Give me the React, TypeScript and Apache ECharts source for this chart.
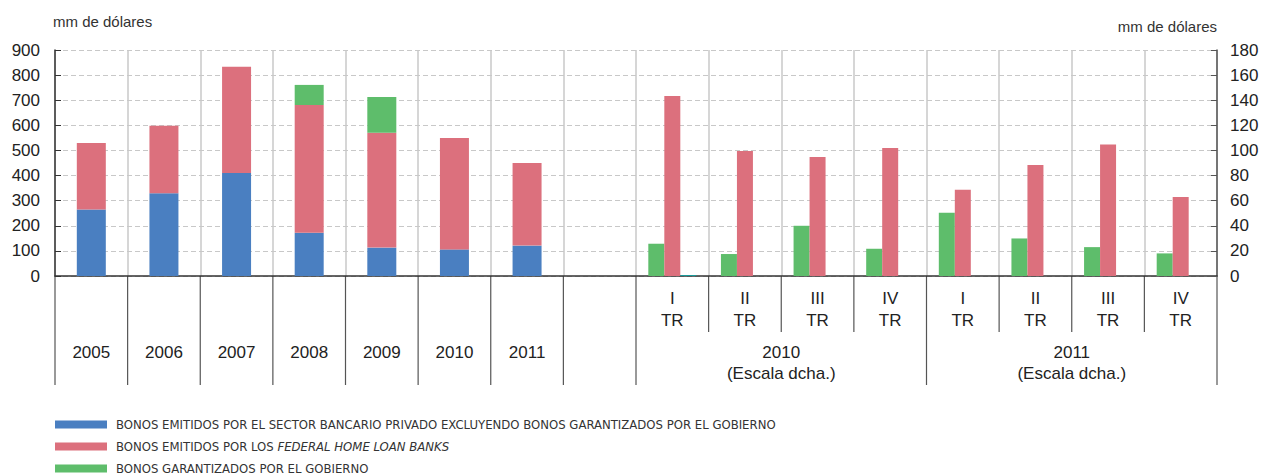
import React, { useEffect, useRef } from 'react';
import * as echarts from 'echarts';

// ---- Data ----
const years = ['2005', '2006', '2007', '2008', '2009', '2010', '2011'];
const quarterYears = ['2010', '2011'];
const quarters = ['I', 'II', 'III', 'IV'];
const quarterSuffix = 'TR';
const scaleNote = '(Escala dcha.)';
const unitLabel = 'mm de dólares';

// Yearly (left axis, stacked)
const privateBankYearly = [265, 330, 410, 172, 113, 106, 121];
const fhlbYearly = [265, 268, 423, 509, 457, 444, 329];
const govYearly = [null, null, null, 80, 143, null, null];

// Quarterly (right axis, side by side)
const govQuarterly = [25.7, 17.5, 40, 21.7, 50.3, 29.9, 23, 18];
const fhlbQuarterly = [143.4, 99.5, 94.8, 102, 68.6, 88.4, 104.8, 63];
const privateBankQuarterly = [0.8, null, null, null, null, null, null, null];

const S_PRIV = 'BONOS EMITIDOS POR EL SECTOR BANCARIO PRIVADO EXCLUYENDO BONOS GARANTIZADOS POR EL GOBIERNO';
const S_FHLB_A = 'BONOS EMITIDOS POR LOS ';
const S_FHLB_B = 'FEDERAL HOME LOAN BANKS';
const S_FHLB = S_FHLB_A + S_FHLB_B;
const S_GOV = 'BONOS GARANTIZADOS POR EL GOBIERNO';

const BLUE = '#4a7fc1';
const RED = '#dc707d';
const GREEN = '#5ebd6b';
const TEAL = '#1a9a9a';

const gapKey = ' ';
const quarterKeys = quarterYears.flatMap((y) => quarters.map((q) => `${q}|${y}`));
const categories = [...years, gapKey, ...quarterKeys];

const yearlyPad = (arr: (number | null)[]) => [...arr, ...Array(1 + quarterKeys.length).fill(null)];
const quarterlyPad = (arr: (number | null)[]) => [...Array(years.length + 1).fill(null), ...arr];

const FONT = '"Liberation Sans", Arial, sans-serif';
const NARROW = '"Liberation Sans Narrow", "DejaVu Sans Condensed", sans-serif';

export default function App() {
  const ref = useRef<HTMLDivElement>(null);
  useEffect(() => {
    document.body.style.margin = '0';
    const chart = echarts.init(ref.current!, undefined, { renderer: 'svg' });
    const option: any = {
      animation: false,
      backgroundColor: '#ffffff',
      grid: { left: 55, right: 47, top: 50, height: 226 },
      legend: {
        orient: 'vertical',
        left: 55,
        top: 418,
        padding: 0,
        itemWidth: 52,
        itemHeight: 8,
        itemGap: 9,
        icon: 'rect',
        selectedMode: false,
        data: [S_PRIV, S_FHLB, S_GOV],
        formatter: (name: string) =>
          name === S_FHLB ? `{n|${S_FHLB_A}}{i|${S_FHLB_B}}` : `{n|${name}}`,
        textStyle: {
          rich: {
            n: { fontFamily: NARROW, fontSize: 13, color: '#333', lineHeight: 15, padding: [0, 0, 0, 4] },
            i: { fontFamily: NARROW, fontSize: 13, color: '#333', lineHeight: 15, fontStyle: 'italic' },
          },
        },
      },
      xAxis: [
        {
          type: 'category',
          gridIndex: 0,
          position: 'bottom',
          data: categories,
          boundaryGap: true,
          axisLine: { show: true, lineStyle: { color: '#333', width: 1.5 } },
          axisTick: { show: false },
          splitLine: { show: true, interval: 0, lineStyle: { color: '#c8c8c8', width: 1.5 } },
          axisLabel: {
            interval: 0,
            margin: 66,
            fontFamily: FONT,
            fontSize: 17,
            lineHeight: 21,
            color: '#222',
            formatter: (v: string) => (years.includes(v) ? v : ''),
          },
        },
        {
          type: 'category',
          gridIndex: 0,
          position: 'bottom',
          data: categories,
          boundaryGap: true,
          axisLine: { show: false },
          axisTick: { show: false },
          splitLine: { show: false },
          axisLabel: {
            interval: 0,
            margin: 11,
            fontFamily: FONT,
            fontSize: 17,
            lineHeight: 22,
            color: '#222',
            formatter: (v: string) => (v.includes('|') ? `${v.split('|')[0]}\n${quarterSuffix}` : ''),
          },
        },
      ],
      yAxis: [
        {
          type: 'value',
          position: 'left',
          min: 0,
          max: 900,
          interval: 100,
          axisLine: { show: true, lineStyle: { color: '#333', width: 1.5 } },
          axisTick: { show: true, inside: true, length: 6, lineStyle: { color: '#333' } },
          axisLabel: { margin: 15, fontFamily: FONT, fontSize: 17, color: '#222' },
          splitLine: { show: true, lineStyle: { color: '#c8c8c8', type: [5, 3], width: 1.2 } },
        },
        {
          type: 'value',
          position: 'right',
          min: 0,
          max: 180,
          interval: 20,
          axisLine: { show: true, lineStyle: { color: '#555', width: 1.5 } },
          axisTick: { show: true, inside: true, length: 6, lineStyle: { color: '#555' } },
          axisLabel: { margin: 13, fontFamily: FONT, fontSize: 17, color: '#222' },
          splitLine: { show: false },
        },
      ],
      series: [
        { name: S_PRIV, type: 'bar', xAxisIndex: 0, yAxisIndex: 0, stack: 'y', barWidth: 29, itemStyle: { color: BLUE }, data: yearlyPad(privateBankYearly) },
        { name: S_FHLB, type: 'bar', xAxisIndex: 0, yAxisIndex: 0, stack: 'y', barWidth: 29, itemStyle: { color: RED }, data: yearlyPad(fhlbYearly) },
        { name: S_GOV, type: 'bar', xAxisIndex: 0, yAxisIndex: 0, stack: 'y', barWidth: 29, itemStyle: { color: GREEN }, data: yearlyPad(govYearly) },
        { name: S_GOV, type: 'bar', xAxisIndex: 1, yAxisIndex: 1, barWidth: 16, barGap: '0%', itemStyle: { color: GREEN }, data: quarterlyPad(govQuarterly) },
        { name: S_FHLB, type: 'bar', xAxisIndex: 1, yAxisIndex: 1, barWidth: 16, barGap: '0%', itemStyle: { color: RED }, data: quarterlyPad(fhlbQuarterly) },
        { name: S_PRIV, type: 'bar', xAxisIndex: 1, yAxisIndex: 1, barWidth: 16, barGap: '0%', itemStyle: { color: TEAL }, data: quarterlyPad(privateBankQuarterly) },
      ],
    };
    chart.setOption(option);

    // Decorations computed from the axes
    const c0 = chart.convertToPixel({ xAxisIndex: 0 } as any, 0) as number;
    const c1 = chart.convertToPixel({ xAxisIndex: 0 } as any, 1) as number;
    const band = c1 - c0;
    const b = (i: number) => c0 + (i - 0.5) * band;
    const y0 = chart.convertToPixel({ yAxisIndex: 0 } as any, 0) as number;
    const yTop = chart.convertToPixel({ yAxisIndex: 0 } as any, 900) as number;
    const nYears = years.length + 1;
    const longIdx: number[] = [];
    for (let i = 0; i <= nYears; i++) longIdx.push(i);
    quarterYears.forEach((_, k) => longIdx.push(nYears + (k + 1) * quarters.length));
    const shortIdx: number[] = [];
    quarterYears.forEach((_, k) => {
      for (let j = 1; j < quarters.length; j++) shortIdx.push(nYears + k * quarters.length + j);
    });
    const graphics: any[] = [];
    longIdx.forEach((i) =>
      graphics.push({
        type: 'line',
        silent: true,
        shape: { x1: b(i), y1: y0, x2: b(i), y2: y0 + 109 },
        style: { stroke: '#555', lineWidth: 1.2 },
      })
    );
    shortIdx.forEach((i) =>
      graphics.push({
        type: 'line',
        silent: true,
        shape: { x1: b(i), y1: y0, x2: b(i), y2: y0 + 56 },
        style: { stroke: '#555', lineWidth: 1.2 },
      })
    );
    quarterYears.forEach((y, k) => {
      const xs = b(nYears + k * quarters.length);
      const xe = b(nYears + (k + 1) * quarters.length);
      graphics.push({
        type: 'text',
        silent: true,
        x: (xs + xe) / 2,
        y: y0 + 87,
        style: {
          text: `${y}\n${scaleNote}`,
          font: `17px ${FONT}`,
          fill: '#222',
          align: 'center',
          verticalAlign: 'middle',
          lineHeight: 21,
        },
      });
    });
    graphics.push({
      type: 'text',
      silent: true,
      x: b(0) - 2,
      y: yTop - 29,
      style: { text: unitLabel, font: `15px ${FONT}`, fill: '#333', align: 'left', verticalAlign: 'middle' },
    });
    graphics.push({
      type: 'text',
      silent: true,
      x: b(categories.length),
      y: yTop - 24,
      style: { text: unitLabel, font: `15px ${FONT}`, fill: '#333', align: 'right', verticalAlign: 'middle' },
    });
    chart.setOption({ graphic: graphics });

    return () => chart.dispose();
  }, []);
  return <div ref={ref} style={{ width: 1264, height: 475 }} />;
}
